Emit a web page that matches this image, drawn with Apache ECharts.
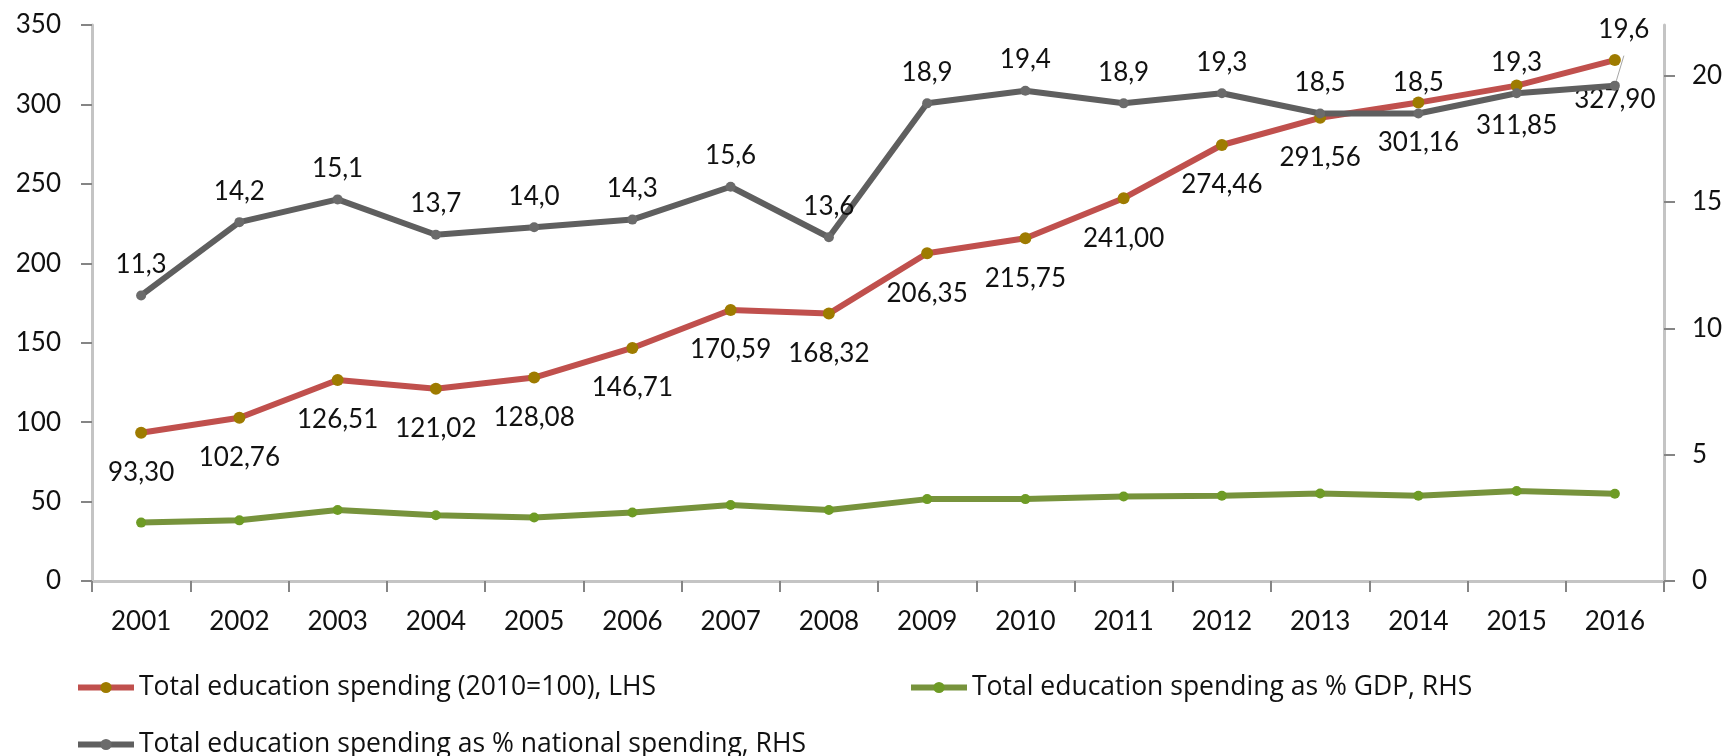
<!DOCTYPE html>
<html>
<head>
<meta charset="utf-8">
<script src="https://cdn.jsdelivr.net/npm/echarts@6/dist/echarts.min.js"></script>
<style>
  html, body { margin: 0; padding: 0; background: #ffffff; }
  #chart { width: 1732px; height: 756px; }
</style>
</head>
<body>
<div id="chart"></div>
<script>
// Education spending, 2001-2016
const years = ['2001', '2002', '2003', '2004', '2005', '2006', '2007', '2008',
               '2009', '2010', '2011', '2012', '2013', '2014', '2015', '2016'];

// Total education spending index (2010=100), left axis
const spendingIndex = [93.30, 102.76, 126.51, 121.02, 128.08, 146.71, 170.59, 168.32,
                       206.35, 215.75, 241.00, 274.46, 291.56, 301.16, 311.85, 327.90];

// Education spending as % of GDP, right axis
const shareGDP = [2.31, 2.40, 2.81, 2.60, 2.51, 2.71, 3.01, 2.81,
                  3.24, 3.24, 3.34, 3.37, 3.46, 3.37, 3.56, 3.45];

// Education spending as % of national spending, right axis
const shareNational = [11.3, 14.2, 15.1, 13.7, 14.0, 14.3, 15.6, 13.6,
                       18.9, 19.4, 18.9, 19.3, 18.5, 18.5, 19.3, 19.6];

const leftTicks = [0, 50, 100, 150, 200, 250, 300, 350];
const rightTicks = [0, 5, 10, 15, 20];

const NAME_INDEX = 'Total education spending (2010=100), LHS';
const NAME_GDP = 'Total education spending as % GDP, RHS';
const NAME_NAT = 'Total education spending as % national spending, RHS';

const FONT = 'Lato';
const TEXT = '#111111';

const comma = (v, d) => Number(v).toFixed(d).replace('.', ',');

// The last national-spending label sits higher, with a guide line to its point
const nationalData = shareNational.map((v, i) => i === shareNational.length - 1
  ? { value: v, label: { offset: [9, -25] }, labelLine: { show: true, lineStyle: { color: '#A6A6A6', width: 1 } } }
  : v);

const axisLineStyle = { show: true, lineStyle: { color: '#C4C4C4', width: 3 } };
const axisTickStyle = { show: true, length: 11, lineStyle: { color: '#858585', width: 2 } };
const axisLabelStyle = { color: TEXT, fontFamily: FONT, fontSize: 26 };

const legendBase = {
  orient: 'horizontal',
  itemWidth: 56,
  itemHeight: 14,
  itemGap: 0,
  lineStyle: { width: 6 },
  textStyle: { color: TEXT, fontFamily: 'Open Sans', fontSize: 26.5 },
  selectedMode: false
};

const chart = echarts.init(document.getElementById('chart'), null, { renderer: 'canvas' });

chart.setOption({
  animation: false,
  backgroundColor: '#ffffff',
  grid: { left: 92, right: 68, top: 25, bottom: 175, containLabel: false },
  legend: [
    Object.assign({}, legendBase, { left: 70, top: 669, data: [NAME_INDEX] }),
    Object.assign({}, legendBase, { left: 903, top: 669, data: [NAME_GDP] }),
    Object.assign({}, legendBase, { left: 70, top: 726, data: [NAME_NAT] })
  ],
  xAxis: {
    type: 'category',
    data: years,
    boundaryGap: true,
    axisLine: axisLineStyle,
    axisTick: Object.assign({}, axisTickStyle, { alignWithLabel: false }),
    axisLabel: Object.assign({}, axisLabelStyle, { margin: 28, interval: 0 }),
    splitLine: { show: false }
  },
  yAxis: [
    {
      type: 'value',
      position: 'left',
      min: leftTicks[0],
      max: leftTicks[leftTicks.length - 1],
      interval: 50,
      axisLine: axisLineStyle,
      axisTick: axisTickStyle,
      axisLabel: Object.assign({}, axisLabelStyle, { margin: 31 }),
      splitLine: { show: false }
    },
    {
      type: 'value',
      position: 'right',
      min: 0,
      max: 22,
      axisLine: axisLineStyle,
      axisTick: Object.assign({}, axisTickStyle, { customValues: rightTicks }),
      axisLabel: Object.assign({}, axisLabelStyle, { margin: 28, customValues: rightTicks }),
      splitLine: { show: false }
    }
  ],
  series: [
    {
      name: NAME_INDEX,
      type: 'line',
      yAxisIndex: 0,
      data: spendingIndex,
      symbol: 'circle',
      symbolSize: 12,
      lineStyle: { color: '#C0504D', width: 6 },
      itemStyle: { color: '#9E7B00' },
      label: {
        show: true,
        position: 'bottom',
        distance: 21,
        color: TEXT,
        fontFamily: FONT,
        fontSize: 26,
        formatter: p => comma(p.value, 2)
      },
      z: 2
    },
    {
      name: NAME_GDP,
      type: 'line',
      yAxisIndex: 1,
      data: shareGDP,
      symbol: 'circle',
      symbolSize: 10,
      lineStyle: { color: '#77933C', width: 6 },
      itemStyle: { color: '#6E9B25' },
      label: { show: false },
      z: 3
    },
    {
      name: NAME_NAT,
      type: 'line',
      yAxisIndex: 1,
      data: nationalData,
      symbol: 'circle',
      symbolSize: 10,
      lineStyle: { color: '#5F5F5F', width: 6 },
      itemStyle: { color: '#6B6B6B' },
      label: {
        show: true,
        position: 'top',
        distance: 13,
        color: TEXT,
        fontFamily: FONT,
        fontSize: 26,
        formatter: p => comma(p.value, 1)
      },
      z: 4
    }
  ]
});
</script>
</body>
</html>
